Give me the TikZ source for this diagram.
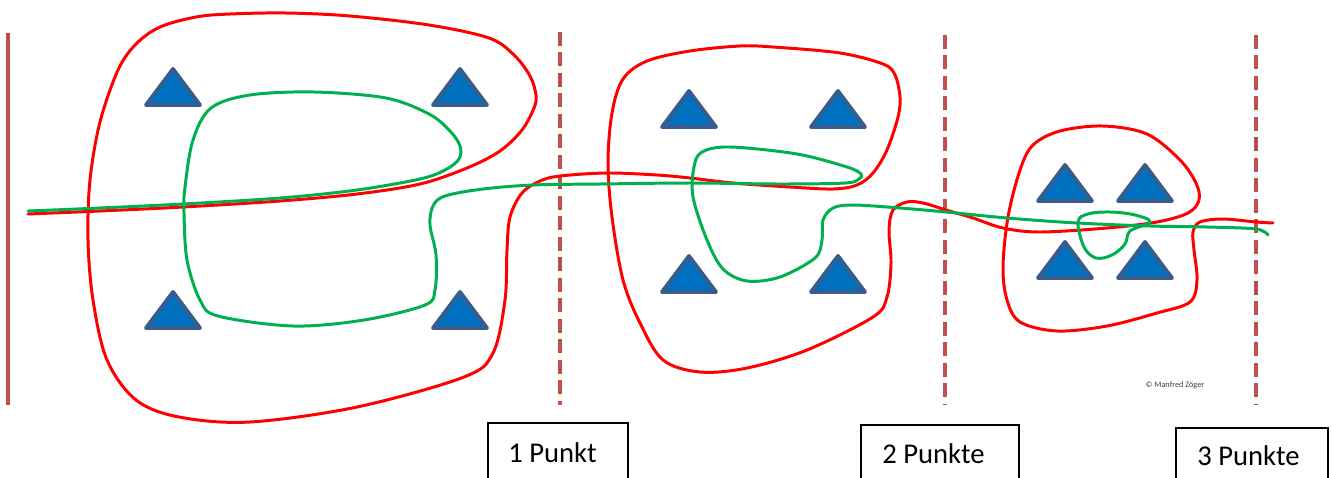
\documentclass[tikz,border=0pt]{standalone}
\usepackage{fontspec}
\setmainfont{Carlito}
\definecolor{cred}{RGB}{255,0,0}
\definecolor{cgreen}{RGB}{0,176,80}
\definecolor{cpost}{RGB}{192,80,77}
\definecolor{tfill}{RGB}{0,112,192}
\definecolor{tedge}{RGB}{56,93,138}
\begin{document}
\begin{tikzpicture}[x=0.02cm,y=-0.02cm,
  post/.style={draw=cpost,line width=2.8pt},
  dashpost/.style={post,dash pattern=on 0.28cm off 0.13cm},
  redline/.style={draw=cred,line width=1.7pt,line cap=round},
  greenline/.style={draw=cgreen,line width=1.7pt,line cap=round},
  tri/.style={fill=tfill,draw=tedge,line width=2.2pt,line join=round},
  box/.style={draw=black,line width=1.1pt,minimum height=1.5cm,anchor=north west,inner sep=0pt},
  lbl/.style={anchor=base west,inner sep=0pt,font=\fontsize{16.3}{19}\selectfont}
]
\useasboundingbox (0,0) rectangle (1332,477);
\clip (0,0) rectangle (1332,477);

% posts
\coordinate (p0t) at (8,33); \coordinate (p0b) at (8,405);
\coordinate (p1t) at (560,32); \coordinate (p1b) at (560,405);
\coordinate (p2t) at (945,35); \coordinate (p2b) at (945,405);
\coordinate (p3t) at (1256,35); \coordinate (p3b) at (1256,405);
\draw[post] (p0t) -- (p0b);
\draw[dashpost] (p1t) -- (p1b);
\draw[dashpost] (p2t) -- (p2b);
\draw[dashpost] (p3t) -- (p3b);

% triangles
\foreach \x/\y in {173/67,460/67,173/290,460/290,689/89,838/89,689/254,838/254,1065/163,1145/163,1065/240,1145/240}
  \filldraw[tri] (\x,\y+2) -- ++(27,36) -- ++(-54,0) -- cycle;

% red line
\draw[redline] plot[smooth,tension=0.55] coordinates {
(28,214) (100,211) (183,207) (280,201) (357,194) (420,184) (467,168) (500,151) (522,130) (534,108) (536,95) (530,76) (514,55) (489,38) (429,25) (350,16) (286,13) (230,14) (196,17) (160,27) (136,44) (118,70) (100,122) (90,180) (88,240) (93,300) (107,360) (136,400) (179,417) (250,422) (357,407) (464,377) (493,353) (505,300) (507,250) (510,217) (522,193) (540,181) (560,176) (607,173) (657,175) (690,178) (733,183) (790,187) (833,189) (857,185) (873,173) (887,150) (898,117) (900,97) (895,75) (883,64) (840,53) (773,47) (740,46) (690,51) (647,61) (623,79) (612,113) (608,163) (612,217) (623,280) (640,323) (663,360) (700,372) (747,368) (807,350) (873,317) (887,297) (891,263) (889,230) (893,210) (907,202) (923,203) (946,210) (973,218) (1003,228) (1040,232) (1107,228) (1157,222) (1188,213) (1199,200) (1196,183) (1180,160) (1147,134) (1103,126) (1060,131) (1033,145) (1020,170) (1008,217) (1003,267) (1007,300) (1020,322) (1057,331) (1107,326) (1157,313) (1190,302) (1197,280) (1194,250) (1193,232) (1200,222) (1223,219) (1256,222) (1273,223)};

% green line
\draw[greenline] plot[smooth,tension=0.55] coordinates {
(28,211) (100,208) (183,204) (280,198) (357,190) (420,179) (445,170) (459,159) (460,146) (450,131) (429,114) (386,98) (314,92) (250,95) (211,108) (193,140) (185,187) (184,213) (187,260) (200,300) (218,316) (293,326) (364,320) (425,305) (435,290) (436,255) (430,225) (433,206) (445,196) (483,189) (533,185) (600,184) (690,183) (780,184) (845,183) (859,179) (861,174) (847,167) (797,154) (730,147) (702,152) (694,167) (693,197) (707,240) (723,269) (747,281) (780,277) (815,258) (822,240) (823,220) (833,208) (853,205) (900,208) (946,212) (1007,218) (1077,223) (1150,226) (1207,227) (1256,229) (1268,235)};
\draw[greenline] plot[smooth cycle,tension=0.6] coordinates {
(1078,222) (1088,214) (1110,212) (1135,215) (1150,222) (1130,231) (1125,244) (1112,255) (1096,258) (1084,247)};

% labels
\node[box,minimum width=2.8cm] (b1) at (487,422) {};
\node[lbl] (l1) at (508,462) {1 Punkt};
\node[box,minimum width=3.16cm] (b2) at (860,424) {};
\node[lbl] (l2) at (882,463) {2 Punkte};
\node[box,minimum width=3.04cm] (b3) at (1175,427) {};
\node[lbl] (l3) at (1197,465) {3 Punkte};

\node[inner sep=0pt,text=black!75,font=\fontsize{4.7}{5}\selectfont] (cr) at (1175,385) {© Manfred Zöger};
\end{tikzpicture}
\end{document}
